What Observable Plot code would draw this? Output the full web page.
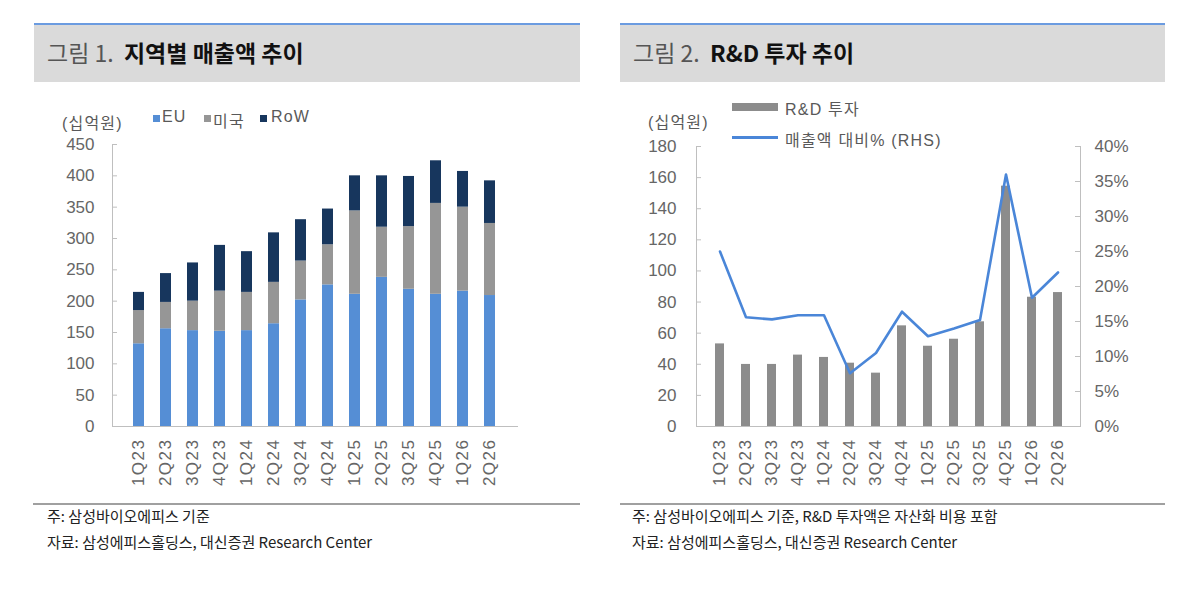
<!DOCTYPE html>
<html>
<head>
<meta charset="utf-8">
<script src="https://cdn.jsdelivr.net/npm/d3@7"></script>
<script src="https://cdn.jsdelivr.net/npm/@observablehq/plot@0.6"></script>
<style>
  html, body { margin: 0; padding: 0; background: #fff; }
  body { width: 1199px; height: 596px; position: relative; overflow: hidden;
         font-family: "Liberation Sans", "Noto Sans CJK KR", sans-serif; color: #595959; }
  .hdr { position: absolute; top: 23px; height: 57px; background: #dadada; border-top: 2px solid #6b9be0; }
  .hdr span.t { position: absolute; left: 13px; top: 10px; font-family: "Noto Sans CJK KR", sans-serif; font-size: 23px; letter-spacing: 0px; white-space: nowrap; }
  .hdr .n { color: #555; font-weight: 400; }
  .hdr .b { color: #111; font-weight: 700; }
  .foot { position: absolute; top: 503px; height: 0; border-top: 2px solid #a0a0a0; }
  .ft { position: absolute; font-family: "Noto Sans CJK KR", sans-serif; font-size: 15px; color: #222; letter-spacing: 0px; white-space: nowrap; }
  .chart { position: absolute; top: 130px; }
  .lg { position: absolute; font-size: 16px; color: #595959; white-space: nowrap; letter-spacing: 1.2px; font-family: "Liberation Sans", "Noto Sans CJK KR", sans-serif; }
  .sq { position: absolute; width: 7px; height: 7px; }
  .chart g[aria-label="x-axis tick label"] text { letter-spacing: 1.5px; }
</style>
</head>
<body>
<div class="hdr" style="left:34px;width:546px"><span class="t"><span class="n">그림 1.</span>&nbsp; <span class="b">지역별 매출액 추이</span></span></div>
<div class="hdr" style="left:620px;width:545px"><span class="t"><span class="n">그림 2.</span>&nbsp; <span class="b">R&amp;D 투자 추이</span></span></div>

<div class="lg" style="left:62px;top:110px">(십억원)</div>
<div class="sq" style="left:153px;top:115px;background:#558ed5"></div>
<div class="lg" style="left:162px;top:108px">EU</div>
<div class="sq" style="left:204px;top:115px;background:#969696"></div>
<div class="lg" style="left:213px;top:108px">미국</div>
<div class="sq" style="left:260px;top:115px;background:#17365d"></div>
<div class="lg" style="left:271px;top:108px">RoW</div>

<div class="lg" style="left:648px;top:109px">(십억원)</div>
<div class="sq" style="left:732px;top:103px;width:46px;height:8px;background:#8c8c8c"></div>
<div class="lg" style="left:785px;top:96px">R&amp;D 투자</div>
<div class="sq" style="left:732px;top:136px;width:46px;height:2.5px;background:#4a86d8"></div>
<div class="lg" style="left:785px;top:127px">매출액 대비% (RHS)</div>

<div id="c1" class="chart" style="left:33px"></div>
<div id="c2" class="chart" style="left:620px"></div>

<div class="foot" style="left:33px;width:547px"></div>
<div class="foot" style="left:620px;width:545px"></div>
<div class="ft" style="left:47px;top:505px">주: 삼성바이오에피스 기준</div>
<div class="ft" style="left:47px;top:531px">자료: 삼성에피스홀딩스, 대신증권 Research Center</div>
<div class="ft" style="left:632px;top:505px">주: 삼성바이오에피스 기준, R&amp;D 투자액은 자산화 비용 포함</div>
<div class="ft" style="left:632px;top:531px">자료: 삼성에피스홀딩스, 대신증권 Research Center</div>

<script>
const quarters = ["1Q23","2Q23","3Q23","4Q23","1Q24","2Q24","3Q24","4Q24","1Q25","2Q25","3Q25","4Q25","1Q26","2Q26"];
const regions = ["EU","미국","RoW"];
const regionColors = ["#558ed5","#969696","#17365d"];
const euSales  = [132, 156, 153, 152, 153, 164, 202, 226, 211, 238, 219, 211, 216, 209];
const usSales  = [ 53,  42,  47,  64,  61,  66,  62,  64, 133,  80, 100, 145, 134, 115];
const rowSales = [ 29,  46,  61,  73,  65,  79,  66,  57,  56,  82,  80,  68,  57,  68];
const leftTicks = [0,50,100,150,200,250,300,350,400,450];

const rdInvest = [53.1, 39.9, 39.9, 45.9, 44.4, 40.7, 34.3, 64.7, 51.6, 56.1, 67.3, 154.5, 83.1, 86.1];
const rdRatio  = [25.0, 15.6, 15.3, 15.9, 15.9, 7.6, 10.5, 16.4, 12.9, 14.0, 15.2, 36.0, 18.4, 22.0];
const rdTicks = [0,20,40,60,80,100,120,140,160,180];
const ratioTicks = [0,5,10,15,20,25,30,35,40];

const font = `"Liberation Sans", "Noto Sans CJK KR", sans-serif`;
const axisColor = "#bfbfbf";

// Chart 1
const salesData = [];
quarters.forEach((q, i) => {
  salesData.push({q, region: "EU", v: euSales[i]});
  salesData.push({q, region: "미국", v: usSales[i]});
  salesData.push({q, region: "RoW", v: rowSales[i]});
});
const W1 = 547, ML1 = 79, MR1 = 63;
const c1 = Plot.plot({
  width: W1, height: 360,
  marginLeft: ML1, marginRight: MR1, marginTop: 14, marginBottom: 64,
  style: {fontFamily: font, fontSize: "17px", color: "#666", background: "transparent"},
  x: {domain: quarters, padding: 0.58, align: 0.5},
  y: {domain: [0, 450]},
  color: {domain: regions, range: regionColors},
  marks: [
    Plot.barY(salesData, {x: "q", y: "v", fill: "region", order: regions}),
    Plot.frame({anchor: "left", stroke: axisColor}),
    Plot.frame({anchor: "bottom", stroke: axisColor}),
    Plot.tickY(leftTicks, {y: d => d, stroke: axisColor, insetRight: W1 - ML1 - MR1 - 5}),
    Plot.axisY(leftTicks, {tickSize: 0, tickPadding: 18, label: null, fill: "#666"}),
    Plot.axisX({tickSize: 0, tickPadding: 12, tickRotate: -90, label: null, fill: "#666"})
  ]
});
document.getElementById("c1").appendChild(c1);

// Chart 2
const ratioScale = 180 / 40;
const rdData = quarters.map((q, i) => ({q, rd: rdInvest[i], pct: rdRatio[i]}));
const W2 = 545, ML2 = 76, MR2 = 85;
const c2 = Plot.plot({
  width: W2, height: 360,
  marginLeft: ML2, marginRight: MR2, marginTop: 16, marginBottom: 64,
  style: {fontFamily: font, fontSize: "17px", color: "#666", background: "transparent"},
  x: {domain: quarters, padding: 0.66, align: 0.5},
  y: {domain: [0, 180]},
  marks: [
    Plot.barY(rdData, {x: "q", y: "rd", fill: "#8c8c8c"}),
    Plot.lineY(rdData, {x: "q", y: d => d.pct * ratioScale, stroke: "#4a86d8", strokeWidth: 2.6}),
    Plot.frame({anchor: "left", stroke: axisColor}),
    Plot.frame({anchor: "right", stroke: axisColor}),
    Plot.frame({anchor: "bottom", stroke: axisColor}),
    Plot.tickY(rdTicks, {y: d => d, stroke: axisColor, insetRight: W2 - ML2 - MR2 - 5}),
    Plot.tickY(ratioTicks, {y: d => d * ratioScale, stroke: axisColor, insetLeft: W2 - ML2 - MR2 - 5}),
    Plot.axisY(rdTicks, {tickSize: 0, tickPadding: 20, label: null, fill: "#666"}),
    Plot.axisY(ratioTicks.map(d => d * ratioScale), {anchor: "right", tickSize: 0, tickPadding: 14, label: null, fill: "#666", tickFormat: d => Math.round(d / ratioScale) + "%"}),
    Plot.axisX({tickSize: 0, tickPadding: 12, tickRotate: -90, label: null, fill: "#666"})
  ]
});
document.getElementById("c2").appendChild(c2);
</script>
</body>
</html>
